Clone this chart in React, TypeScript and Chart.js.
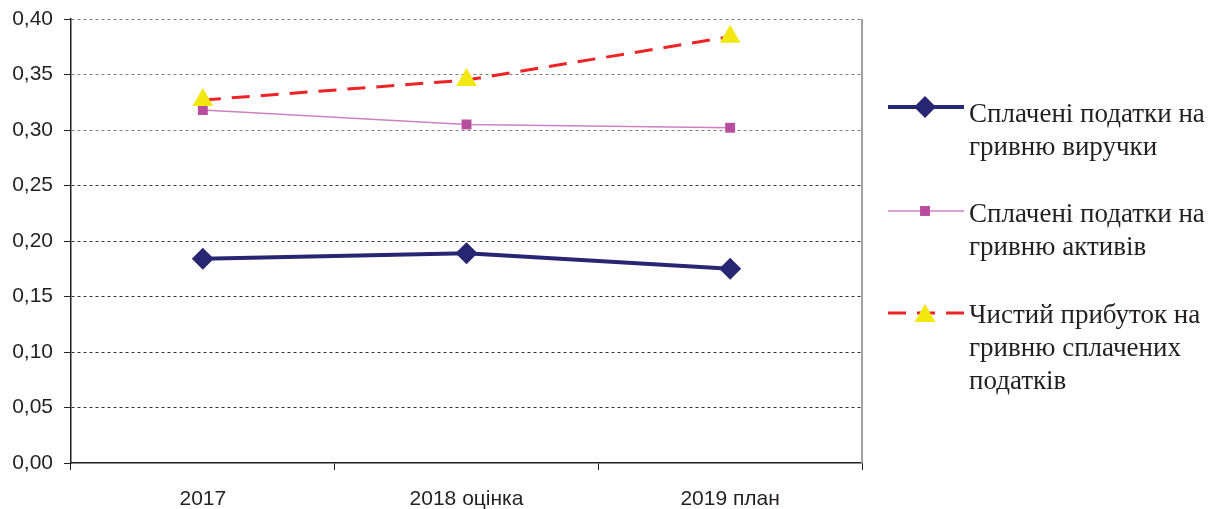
import React, { useEffect, useRef } from 'react';
import { Chart, registerables } from 'chart.js';
import { drawPoint } from 'chart.js/helpers';

Chart.register(...registerables);

const categories = ['2017', '2018 оцінка', '2019 план'];
const taxesPerRevenue = [0.184, 0.189, 0.175];
const taxesPerAssets = [0.318, 0.305, 0.302];
const profitPerTaxes = [0.327, 0.345, 0.384];
const seriesNames: string[][] = [
  ['Сплачені податки на', 'гривню виручки'],
  ['Сплачені податки на', 'гривню активів'],
  ['Чистий прибуток на', 'гривню сплачених', 'податків'],
];
const yMin = 0;
const yMax = 0.4;
const yStep = 0.05;

const sideLegend = {
  id: 'sideLegend',
  afterDraw(chart: any) {
    const ctx = chart.ctx;
    const area = chart.chartArea;
    // right border of plot area
    ctx.save();
    ctx.strokeStyle = '#a0a0a8';
    ctx.lineWidth = 2;
    ctx.beginPath();
    ctx.moveTo(area.right, area.top);
    ctx.lineTo(area.right, area.bottom);
    ctx.stroke();
    ctx.restore();

    const markerY = [107, 211, 313];
    const firstBaseline = [122, 222, 323];
    const lineGap = 33;
    chart.data.datasets.forEach((ds: any, i: number) => {
      const y = markerY[i];
      ctx.save();
      ctx.strokeStyle = ds.borderColor;
      ctx.lineWidth = ds.borderWidth;
      ctx.setLineDash(ds.borderDash || []);
      ctx.beginPath();
      ctx.moveTo(888, y);
      ctx.lineTo(964, y);
      ctx.stroke();
      ctx.restore();
      ctx.save();
      ctx.fillStyle = ds.pointBackgroundColor;
      ctx.strokeStyle = ds.pointBackgroundColor;
      drawPoint(ctx, { pointStyle: ds.pointStyle, radius: ds.pointRadius, rotation: 0, borderWidth: 0 }, 925, ds.pointStyle === 'triangle' ? y + 3 : y);
      ctx.restore();
      ctx.save();
      ctx.fillStyle = '#231f20';
      ctx.font = '27px "Liberation Serif", "Times New Roman", serif';
      ctx.textAlign = 'left';
      ctx.textBaseline = 'alphabetic';
      seriesNames[i].forEach((line, j) => {
        ctx.fillText(line, 969, firstBaseline[i] + j * lineGap);
      });
      ctx.restore();
    });
  },
};

export default function App() {
  const canvasRef = useRef<HTMLCanvasElement | null>(null);

  useEffect(() => {
    if (!canvasRef.current) return;
    const chart = new Chart(canvasRef.current, {
      type: 'line',
      data: {
        labels: categories,
        datasets: [
          {
            label: seriesNames[0].join(' '),
            data: taxesPerRevenue,
            borderColor: '#262673',
            backgroundColor: '#262673',
            pointBackgroundColor: '#262673',
            pointBorderColor: '#262673',
            borderWidth: 4,
            pointStyle: 'rectRot',
            pointRadius: 11,
            pointBorderWidth: 0,
            tension: 0,
            order: 3,
          },
          {
            label: seriesNames[1].join(' '),
            data: taxesPerAssets,
            borderColor: '#cf80c2',
            backgroundColor: '#b84d9e',
            pointBackgroundColor: '#b84d9e',
            pointBorderColor: '#b84d9e',
            borderWidth: 1.5,
            pointStyle: 'rect',
            pointRadius: 7,
            pointBorderWidth: 0,
            tension: 0,
            order: 2,
          },
          {
            label: seriesNames[2].join(' '),
            data: profitPerTaxes,
            borderColor: '#ee2326',
            backgroundColor: '#f2e70f',
            pointBackgroundColor: '#f2e70f',
            pointBorderColor: '#f2e70f',
            borderWidth: 3,
            borderDash: [18, 11],
            pointStyle: 'triangle',
            pointRadius: 12,
            pointBorderWidth: 0,
            tension: 0,
            order: 1,
          },
        ],
      },
      options: {
        animation: false,
        responsive: true,
        maintainAspectRatio: false,
        layout: { padding: { top: 0, right: 353, left: 0, bottom: 0 } },
        plugins: {
          legend: { display: false },
          tooltip: { enabled: false },
        },
        scales: {
          x: {
            offset: true,
            grid: {
              offset: true,
              drawOnChartArea: false,
              drawTicks: true,
              tickLength: 7,
              tickColor: '#231f20',
              tickWidth: 1,
            },
            border: { display: true, color: '#231f20', width: 1.5 },
            ticks: {
              color: '#231f20',
              font: { family: '"Liberation Sans", Arial, sans-serif', size: 21 },
              padding: 17,
              maxRotation: 0,
            },
            afterFit(scale: any) {
              scale.height = 46;
              scale.paddingLeft = 0;
              scale.paddingRight = 0;
            },
          },
          y: {
            min: yMin,
            max: yMax,
            grid: {
              color: (c: any) =>
                c.tick && c.tick.value === 0 ? 'rgba(0,0,0,0)' : c.tick && c.tick.value >= 0.3 ? '#7a7a7a' : '#333333',
              lineWidth: 1,
              drawTicks: true,
              tickLength: 7,
              tickColor: '#231f20',
            },
            border: { display: true, color: '#231f20', width: 1.5, dash: [3, 3] },
            ticks: {
              stepSize: yStep,
              color: '#231f20',
              font: { family: '"Liberation Sans", Arial, sans-serif', size: 21 },
              padding: 11,
              callback: (v: any) => Number(v).toFixed(2).replace('.', ','),
            },
            afterFit(scale: any) {
              scale.width = 71;
              scale.paddingTop = 19;
              scale.paddingBottom = 0;
            },
          },
        },
      },
      plugins: [sideLegend],
    });
    return () => chart.destroy();
  }, []);

  return (
    <div style={{ position: 'fixed', left: 0, top: 0, width: 1215, height: 509, background: '#fff' }}>
      <canvas ref={canvasRef} />
    </div>
  );
}
